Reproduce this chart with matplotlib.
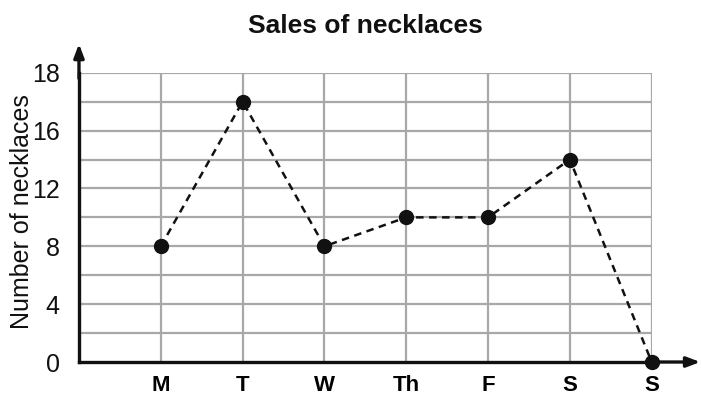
import matplotlib
matplotlib.use("Agg")
import matplotlib.pyplot as plt

days = ["M", "T", "W", "Th", "F", "S", "S"]
necklaces = [8, 18, 8, 10, 10, 14, 0]
y_tick_values = [0, 4, 8, 12, 16, 20]
y_tick_labels = ["0", "4", "8", "12", "16", "18"]

plt.rcParams["font.family"] = ["Liberation Sans", "DejaVu Sans"]

fig = plt.figure(figsize=(7.02, 3.95), dpi=100)
ax = fig.add_axes([0.1125, 0.0835, 0.8158, 0.7324])

x = list(range(1, len(days) + 1))
ax.set_xlim(0, len(days))
ax.set_ylim(0, 20)

# grid
for gx in range(1, len(days) + 1):
    ax.axvline(gx, color="#a8a8a8", lw=1.6, zorder=1)
for gy in range(2, 21, 2):
    ax.axhline(gy, color="#a8a8a8", lw=1.6, zorder=1)

ax.plot(x, necklaces, ls=(0, (3, 2.2)), color="#111111", lw=1.8,
        marker="o", ms=10, mfc="#111111", mec="#111111", zorder=3,
        clip_on=False)

for s in ["top", "right"]:
    ax.spines[s].set_visible(False)
for s in ["left", "bottom"]:
    ax.spines[s].set_linewidth(2.4)
    ax.spines[s].set_color("#111111")

# axis arrows
ax.annotate("", xy=(0, 1.1), xytext=(0, 0.98), xycoords="axes fraction",
            arrowprops=dict(arrowstyle="-|>,head_length=0.8,head_width=0.3",
                            color="#111111", lw=2.4, shrinkA=0, shrinkB=0))
ax.annotate("", xy=(1.085, 0), xytext=(0.99, 0), xycoords="axes fraction",
            arrowprops=dict(arrowstyle="-|>,head_length=0.8,head_width=0.3",
                            color="#111111", lw=2.4, shrinkA=0, shrinkB=0))

ax.set_xticks(x)
ax.set_xticklabels(days, fontsize=16, fontweight="bold")
ax.set_yticks(y_tick_values)
ax.set_yticklabels(y_tick_labels, fontsize=18, color="#111111")
ax.tick_params(length=0, pad=9)
ax.tick_params(axis="y", pad=14)

ax.set_ylabel("Number of necklaces", fontsize=18, color="#111111",
              va="center")
ax.yaxis.set_label_coords(-0.1, 0.52)
fig.text(0.521, 0.933, "Sales of necklaces", ha="center", va="center",
         fontsize=19, fontweight="bold", color="#111111")

fig.savefig("out.png", dpi=100)
